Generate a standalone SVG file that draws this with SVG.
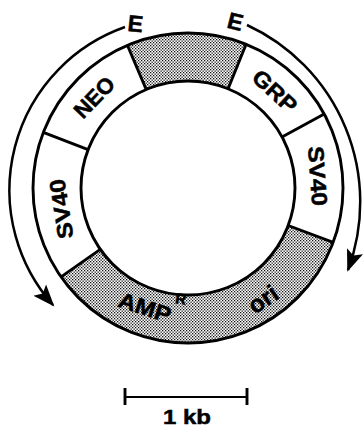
<svg xmlns="http://www.w3.org/2000/svg" width="363" height="427" viewBox="0 0 363 427">
<style>
.ln{fill:none;stroke:#000;stroke-width:2.9}
.arc{fill:none;stroke:#000;stroke-width:2.5}
.sh{fill:url(#dots);stroke:none}
.t{font-family:"Liberation Sans",Arial,Helvetica,sans-serif;font-weight:bold;font-size:22px;text-anchor:middle;fill:#000;stroke:#000;stroke-width:0.5}
.e{font-size:23px}
.sup{font-size:15px}
</style>
<defs>
<pattern id="dots" width="3" height="3" patternUnits="userSpaceOnUse">
<rect width="3" height="3" fill="#fff"/>
<rect width="1.3" height="1.3" fill="#111"/>
<rect x="1.5" y="1.5" width="1.3" height="1.3" fill="#111"/>
</pattern>
<marker id="ah" markerUnits="userSpaceOnUse" markerWidth="26" markerHeight="22" refX="20" refY="11" orient="auto">
<path d="M0,2.5 L22,11 L0,19.5 L4.5,11 Z" fill="#000"/>
</marker>
</defs>
<rect width="363" height="427" fill="#fff"/>

<g id="seg-top">
<path class="sh" d="M127.4,45.3 A155,155 0 0 1 246.1,44.3 L228.1,88.8 A107,107 0 0 0 146.2,89.5 Z"/>
</g>
<g id="seg-amp-ori">
<path class="sh" d="M333.2,242.3 A155,155 0 0 1 61.0,276.9 L100.3,249.4 A107,107 0 0 0 288.2,225.5 Z"/>
<text class="t" transform="translate(145,307) rotate(18)" y="8" textLength="54" lengthAdjust="spacingAndGlyphs">AMP</text>
<text class="t sup" transform="translate(180,304) rotate(8)" y="0">R</text>
<text class="t" transform="translate(265,302) rotate(-34)" y="5" style="font-size:24px">ori</text>
</g>

<g id="ring">
<circle class="ln" cx="188" cy="188" r="155"/>
<circle class="ln" cx="188" cy="188" r="107"/>
<line class="ln" x1="127.4" y1="45.3" x2="146.2" y2="89.5"/>
<line class="ln" x1="246.1" y1="44.3" x2="228.1" y2="88.8"/>
<line class="ln" x1="324.2" y1="114.0" x2="282.0" y2="136.9"/>
<line class="ln" x1="333.2" y1="242.3" x2="288.2" y2="225.5"/>
<line class="ln" x1="61.0" y1="276.9" x2="100.3" y2="249.4"/>
<line class="ln" x1="43.3" y1="132.4" x2="88.1" y2="149.7"/>
</g>

<g id="seg-neo">
<text class="t" transform="translate(94,97) rotate(-46)" y="8" textLength="48" lengthAdjust="spacingAndGlyphs">NEO</text>
</g>
<g id="seg-grp">
<text class="t" transform="translate(275,91) rotate(42.5)" y="8" textLength="52" lengthAdjust="spacingAndGlyphs">GRP</text>
</g>
<g id="seg-sv40-right">
<text class="t" transform="translate(318,176) rotate(86)" y="8" textLength="60" lengthAdjust="spacingAndGlyphs">SV40</text>
</g>
<g id="seg-sv40-left">
<text class="t" transform="translate(61,209) rotate(-99)" y="8" textLength="60" lengthAdjust="spacingAndGlyphs">SV40</text>
</g>

<g id="connectors">
<path class="arc" d="M125,27 A173,173 0 0 0 53,305" marker-end="url(#ah)"/>
<path class="arc" d="M247,25 A195,195 0 0 1 348,270" marker-end="url(#ah)"/>
</g>

<g id="labels">
<text class="t e" transform="translate(135.5,23.5) rotate(6)" y="8.2">E</text>
<text class="t e" transform="translate(235.5,21.5) rotate(14)" y="8.2">E</text>
</g>

<g id="scale">
<line class="ln" x1="125" y1="397" x2="247" y2="397" style="stroke-width:2.2"/>
<line class="ln" x1="125" y1="388" x2="125" y2="405"/>
<line class="ln" x1="247" y1="388" x2="247" y2="405"/>
<text class="t" x="187" y="424" style="font-size:21px" textLength="48" lengthAdjust="spacingAndGlyphs">1 kb</text>
</g>
</svg>
